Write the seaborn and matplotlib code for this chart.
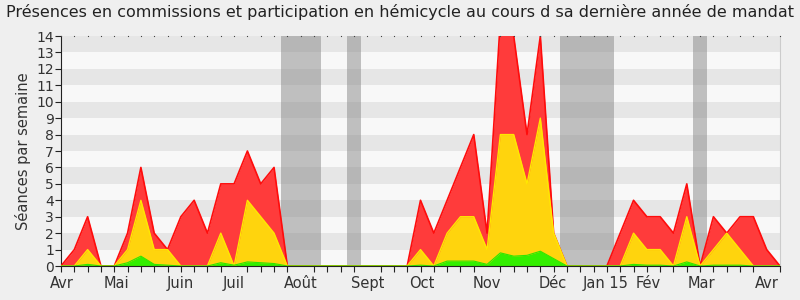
import numpy as np
import pandas as pd
import matplotlib
matplotlib.use("Agg")
import matplotlib.pyplot as plt
import seaborn as sns

# ---- data (weekly values) ----
weeks = list(range(55))
total = [0, 1, 3, 0, 0, 2, 6, 2, 1, 3, 4, 2, 5, 5, 7, 5, 6, 0,
         0, 0, 0, 0, 0, 0, 0, 0, 0,
         4, 2, 4, 6, 8, 2, 15, 14, 8, 14, 2,
         0, 0, 0, 0,
         2, 4, 3, 3, 2, 5, 0, 3, 2, 3, 3, 1, 0]
hemicycle = [0, 0, 1, 0, 0, 1, 4, 1, 1, 0, 0, 0, 2, 0, 4, 3, 2, 0,
             0, 0, 0, 0, 0, 0, 0, 0, 0,
             1, 0, 2, 3, 3, 1, 8, 8, 5, 9, 2,
             0, 0, 0, 0,
             0, 2, 1, 1, 0, 3, 0, 1, 2, 1, 0, 0, 0]
commission = [0, 0, 0.1, 0, 0, 0.2, 0.6, 0.1, 0.05, 0, 0, 0, 0.2, 0.05, 0.25, 0.2, 0.15, 0,
              0, 0, 0, 0, 0, 0, 0, 0, 0,
              0.05, 0, 0.3, 0.3, 0.3, 0.1, 0.8, 0.6, 0.65, 0.9, 0.45,
              0, 0, 0, 0,
              0, 0.1, 0.05, 0.05, 0, 0.25, 0, 0.05, 0.05, 0.05, 0, 0, 0]
vacation_starts = [16.5, 21.5, 37.5, 47.5]
vacation_ends = [19.5, 22.5, 41.5, 48.5]
month_labels = ["Avr", "Mai", "Juin", "Juil", "Août", "Sept", "Oct", "Nov",
                "Déc", "Jan 15", "Fév", "Mar", "Avr"]
month_pos = [0.05, 4.15, 8.95, 13.0, 18.0, 23.0, 27.1, 32.0, 36.9, 40.9, 44.1, 48.1, 53.0]

df = pd.DataFrame({"week": weeks, "total": total,
                   "hemicycle": hemicycle, "commission": commission})

sns.set_style("white")
plt.rcParams["font.family"] = ["DejaVu Sans"]

fig = plt.figure(figsize=(8, 3), dpi=100, facecolor="#efefef")
ax = fig.add_axes([0.07625, 0.1133, 0.89875, 0.7667])
ax.set_facecolor("#f8f8f8")

# alternating stripes
for y0 in range(0, 14):
    if y0 % 2 == 1:
        ax.axhspan(y0, y0 + 1, color="#e6e6e6", zorder=0, lw=0)

# vacation bands
for s, e in zip(vacation_starts, vacation_ends):
    ax.axvspan(s, e, color="#888888", alpha=0.5, zorder=1, lw=0)

ax.fill_between(df["week"], 0, df["total"], color="#ff3b3b", lw=0, zorder=2)
sns.lineplot(data=df, x="week", y="total", ax=ax, color="#ff0c0c", lw=1.2, zorder=3)
ax.fill_between(df["week"], 0, df["hemicycle"], color="#ffd40d", lw=0, zorder=4)
sns.lineplot(data=df, x="week", y="hemicycle", ax=ax, color="#ffe800", lw=1.0, zorder=5)
ax.fill_between(df["week"], 0, df["commission"], color="#33ef00", lw=0, zorder=6)
sns.lineplot(data=df, x="week", y="commission", ax=ax, color="#2ee600", lw=0.8, zorder=7)

ax.set_xlim(0, 54)
ax.set_ylim(0, 14)
ax.set_yticks(range(0, 15))
ax.set_yticklabels([str(i) for i in range(0, 15)], fontsize=10, color="#333333")
ax.set_xticks(month_pos)
ax.set_xticklabels(month_labels, fontsize=10.5, color="#333333")
ax.set_xticks(weeks, minor=True)
ax.tick_params(axis="x", which="major", length=0, pad=7)
ax.tick_params(axis="x", which="minor", length=4, width=0.8, color="#222222",
               bottom=True, top=False, direction="out")
ax.tick_params(axis="y", which="major", length=4, width=0.8, color="#222222",
               left=True, pad=1)
ax.set_xlabel("")
ax.set_ylabel("Séances par semaine", fontsize=10.5, color="#333333", labelpad=4)

ax.spines["top"].set_visible(False)
ax.spines["right"].set_color("#cccccc")
ax.spines["left"].set_color("#222222")
ax.spines["bottom"].set_color("#222222")
ax.spines["bottom"].set_zorder(10)

# top dotted ticks (small marks)
ax.plot(weeks, [14.0] * len(weeks), linestyle="none", marker="s", markersize=0.8,
        markeredgewidth=0, color="#444444", zorder=10, clip_on=False)

fig.suptitle("Présences en commissions et participation en hémicycle au cours d sa dernière année de mandat",
             fontsize=11.5, color="#222222", x=0.5, y=0.985)

fig.savefig("out.png", dpi=100, facecolor=fig.get_facecolor())
